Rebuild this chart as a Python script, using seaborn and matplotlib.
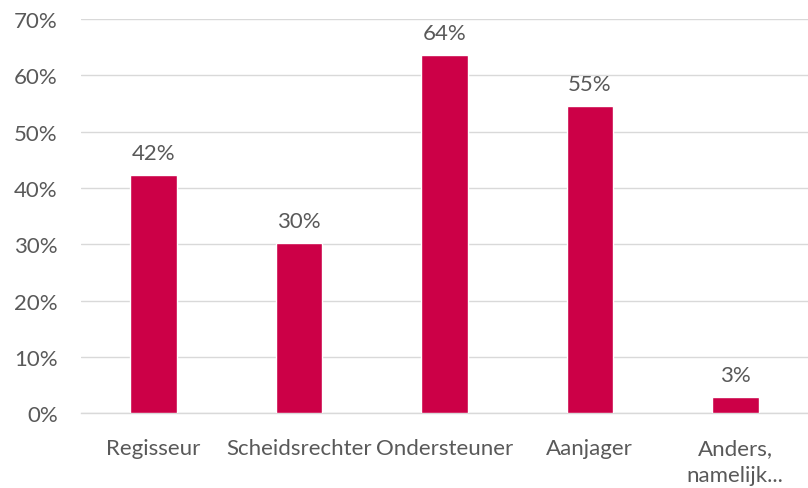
import pandas as pd
import matplotlib.pyplot as plt
import seaborn as sns

# rollen en percentages uit de grafiek
categories = ['Regisseur', 'Scheidsrechter', 'Ondersteuner', 'Aanjager', 'Anders,\nnamelijk...']
values = [42.3, 30.2, 63.6, 54.5, 2.8]
labels = ['42%', '30%', '64%', '55%', '3%']
yticks = [0, 10, 20, 30, 40, 50, 60, 70]

sns.set_theme(style="white")
plt.rcParams['font.family'] = ['Lato', 'DejaVu Sans']

df = pd.DataFrame({'rol': categories, 'pct': values})

fig = plt.figure(figsize=(8.08, 4.89), dpi=100)
ax = fig.add_axes([0.1, 0.153, 0.9, 0.806])

txt = '#595959'
sns.barplot(data=df, x='rol', y='pct', color='#CC0047', width=0.32, ax=ax,
            saturation=1, zorder=3)

ax.set_ylim(0, 70)
ax.set_yticks(yticks)
ax.set_yticklabels([f'{t}%' for t in yticks], fontsize=16, color=txt)
ax.yaxis.grid(True, color='#D9D9D9', linewidth=1.0, zorder=0)
ax.tick_params(axis='x', labelsize=16, colors=txt, length=0, pad=18)
ax.tick_params(axis='y', length=0, pad=16.5)
for lab in ax.get_xticklabels():
    lab.set_linespacing(1.45)
ax.set_xlabel('')
ax.set_ylabel('')
for s in ['top', 'right', 'left']:
    ax.spines[s].set_visible(False)
ax.spines['bottom'].set_color('#D9D9D9')
ax.spines['bottom'].set_linewidth(1.0)

for i, (v, lab) in enumerate(zip(values, labels)):
    ax.annotate(lab, (i, v), xytext=(0, 9), textcoords='offset points',
                ha='center', va='bottom', fontsize=16, color=txt)

plt.savefig('out.png', dpi=100)
plt.close()
